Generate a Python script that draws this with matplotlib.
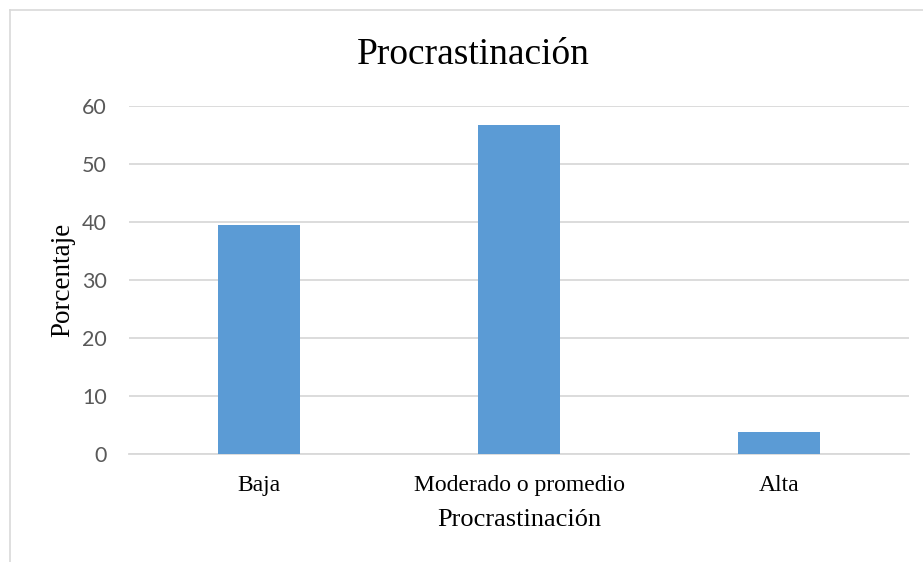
import matplotlib
matplotlib.use("Agg")
import matplotlib.pyplot as plt
from matplotlib.lines import Line2D

categories = ["Baja", "Moderado o promedio", "Alta"]
percentages = [39.4, 56.7, 3.7]
y_ticks = [0, 10, 20, 30, 40, 50, 60]

bar_color = "#5B9BD5"
grid_color = "#D9D9D9"

fig = plt.figure(figsize=(9.23, 5.62), dpi=100)
# plot area in pixels: x 129..909, y 105.7..453.7 (of 923x562)
ax = fig.add_axes([129 / 923, 1 - 453.7 / 562, 780 / 923, 348 / 562])

x = range(len(categories))
ax.bar(x, percentages, width=0.315, color=bar_color, zorder=3)

ax.set_xlim(-0.5, len(categories) - 0.5)
ax.set_ylim(0, 60)
ax.set_yticks(y_ticks)
ax.set_yticklabels([str(v) for v in y_ticks], family="Lato", fontsize=15.5,
                   color="#595959")
ax.set_xticks(list(x))
ax.set_xticklabels(categories, family="Liberation Serif", fontsize=17,
                   color="black")
ax.tick_params(axis="both", length=0)
ax.tick_params(axis="y", pad=16)
ax.tick_params(axis="x", pad=15)

ax.yaxis.grid(True, color=grid_color, linewidth=1.3, zorder=0)
ax.set_axisbelow(True)
for side in ["top", "right", "left"]:
    ax.spines[side].set_visible(False)
ax.spines["bottom"].set_color(grid_color)
ax.spines["bottom"].set_linewidth(1.3)

ax.set_xlabel("Procrastinación", family="Liberation Serif", fontsize=19,
              labelpad=10)
ax.set_ylabel("Porcentaje", family="Liberation Serif", fontsize=19.5,
              labelpad=5)

fig.text(473 / 923, 1 - 55 / 562, "Procrastinación", family="Liberation Serif",
         fontsize=27, ha="center", va="center")

# outer chart border (left and top edges visible)
fig.add_artist(Line2D([10 / 923, 10 / 923], [0, 1 - 10 / 562],
                      transform=fig.transFigure, color="#D9D9D9", lw=1.2))
fig.add_artist(Line2D([10 / 923, 1], [1 - 10 / 562, 1 - 10 / 562],
                      transform=fig.transFigure, color="#D9D9D9", lw=1.2))

fig.savefig("out.png", dpi=100)
